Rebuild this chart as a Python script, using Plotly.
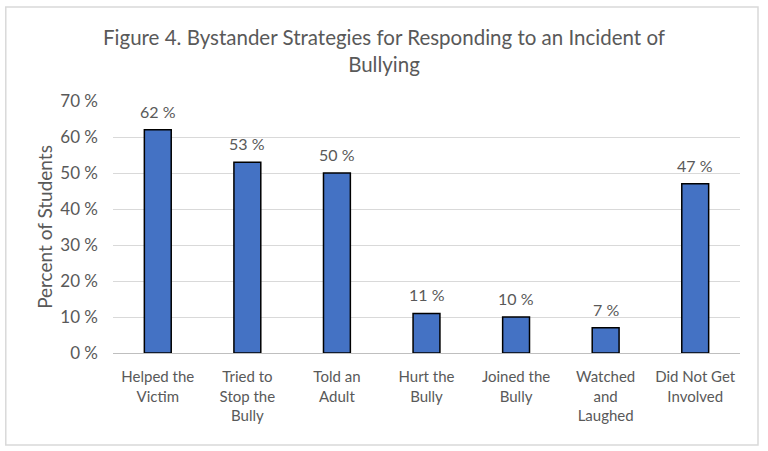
import plotly.graph_objects as go

categories = ["Helped the<br>Victim", "Tried to<br>Stop the<br>Bully", "Told an<br>Adult",
              "Hurt the<br>Bully", "Joined the<br>Bully", "Watched<br>and<br>Laughed",
              "Did Not Get<br>Involved"]
values = [62, 53, 50, 11, 10, 7, 47]
tick_vals = [0, 10, 20, 30, 40, 50, 60, 70]

FONT = "Lato, Carlito, 'Open Sans', sans-serif"
GREY = "#595959"

fig = go.Figure(go.Bar(
    x=categories, y=values,
    marker=dict(color="#4472C4", line=dict(color="black", width=1.5)),
    width=0.3,
    hoverinfo="x+y",
))

for c, v in zip(categories, values):
    fig.add_annotation(x=c, y=v, text=f"{v} %", showarrow=False, yanchor="bottom", yshift=7,
                       font=dict(size=16, color=GREY, family=FONT))

fig.update_layout(
    width=768, height=451,
    margin=dict(l=113, r=28, t=101, b=98),
    paper_bgcolor="white", plot_bgcolor="white",
    title=dict(text="Figure 4. Bystander Strategies for Responding to an Incident of<br>Bullying",
               x=0.5, xanchor="center", y=0.90, yanchor="top",
               font=dict(size=20.5, color=GREY, family=FONT)),
    font=dict(family=FONT, color=GREY),
    showlegend=False,
)
fig.update_yaxes(range=[0, 70], tickvals=tick_vals, ticktext=[f"{t} %" for t in tick_vals],
                 showgrid=True, gridcolor="#d9d9d9", gridwidth=1,
                 zeroline=False, showline=False,
                 tickfont=dict(size=17, color=GREY, family=FONT),
                 title=dict(text="Percent of Students", font=dict(size=19, color=GREY, family=FONT), standoff=2),
                 ticks="", ticklabelstandoff=14, automargin=False)
fig.update_xaxes(showline=True, linecolor="#bfbfbf", linewidth=1,
                 tickfont=dict(size=15, color=GREY, family=FONT), ticks="", ticklabelstandoff=10,
                 automargin=False)

fig.add_shape(type="rect", xref="paper", yref="paper", x0=-0.171, x1=1.0287, y0=-0.365, y1=1.373,
              line=dict(color="#d9d9d9", width=1.5), fillcolor="rgba(0,0,0,0)", layer="below")

fig.write_html("out.html", config={"displayModeBar": False},
               post_script="document.body.style.margin='0';")
